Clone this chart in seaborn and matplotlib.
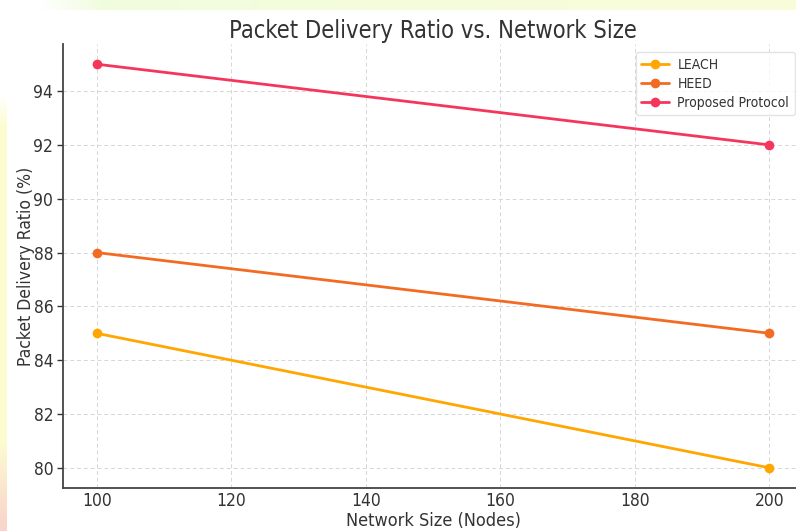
import numpy as np
import pandas as pd
import matplotlib
matplotlib.use("Agg")
import matplotlib.pyplot as plt
import seaborn as sns

# ---- data ----
network_sizes = [100, 200]
leach = [85, 80]
heed = [88, 85]
proposed = [95, 92]
protocols = ["LEACH", "HEED", "Proposed Protocol"]
colors = ["#ffa600", "#f36b22", "#f5365c"]

df = pd.DataFrame({
    "Network Size (Nodes)": network_sizes * 3,
    "Packet Delivery Ratio (%)": leach + heed + proposed,
    "Protocol": [protocols[0]] * 2 + [protocols[1]] * 2 + [protocols[2]] * 2,
})

sns.set_theme(style="white")
plt.rcParams["font.family"] = ["DejaVu Sans"]
plt.rcParams["font.stretch"] = "condensed"
plt.rcParams["text.color"] = "#333333"
plt.rcParams["axes.labelcolor"] = "#333333"
plt.rcParams["xtick.color"] = "#333333"
plt.rcParams["ytick.color"] = "#333333"

W, H = 796, 531
fig = plt.figure(figsize=(W / 100, H / 100), dpi=100)

# faint decorative background edges (screenshot-like)
bg = fig.add_axes([0, 0, 1, 1], zorder=-10)
img = np.ones((H, W, 3))
top = np.linspace(0, 1, W)
tcol_a = np.array([0.94, 0.99, 0.88])
tcol_b = np.array([0.98, 0.99, 0.85])
fade = np.clip((np.arange(W) - 40) / 60, 0, 1)
for x in range(W):
    col = tcol_a * (1 - top[x]) + tcol_b * top[x]
    img[0:10, x] = 1 - (1 - col) * fade[x]
lcol_y = np.array([0.99, 0.99, 0.82])
lcol_p = np.array([0.98, 0.84, 0.80])
for y in range(95, H):
    t = np.clip((y - 440) / 80, 0, 1)
    col = lcol_y * (1 - t) + lcol_p * t
    f = np.clip((y - 95) / 30, 0, 1)
    img[y, 0:7] = 1 - (1 - col) * f
bg.imshow(img, aspect="auto", interpolation="bilinear")
bg.axis("off")

ax = fig.add_axes([63 / W, 43 / H, 740 / W, 444 / H])
sns.lineplot(
    data=df, x="Network Size (Nodes)", y="Packet Delivery Ratio (%)",
    hue="Protocol", palette=colors, marker="o", markersize=7,
    markeredgewidth=0, linewidth=2, ax=ax,
)
ax.set_xlim(95, 205)
ax.set_ylim(79.25, 95.75)
ax.set_xticks([100, 120, 140, 160, 180, 200])
ax.set_yticks([80, 82, 84, 86, 88, 90, 92, 94])
ax.grid(True, linestyle=(0, (4, 3)), color="#d6d6d6", linewidth=0.7)
ax.set_axisbelow(True)
for s in ["top", "right"]:
    ax.spines[s].set_visible(False)
for s in ["left", "bottom"]:
    ax.spines[s].set_color("#444444")
    ax.spines[s].set_linewidth(1.3)
ax.tick_params(axis="x", direction="in", length=4, width=1, labelsize=12.5, pad=3)
ax.tick_params(axis="y", direction="out", length=4, width=1, labelsize=12.5, left=True, pad=3)
ax.set_xlabel("Network Size (Nodes)", fontsize=13, labelpad=1)
ax.set_ylabel("Packet Delivery Ratio (%)", fontsize=12.6, labelpad=-1)
ax.set_title("Packet Delivery Ratio vs. Network Size", fontsize=17, pad=4)
leg = ax.legend(loc="upper right", fontsize=10, frameon=True, borderaxespad=0.6,
                labelspacing=0.35, handlelength=2.0, handletextpad=0.6)
leg.set_title(None)
leg.get_frame().set_edgecolor("#dddddd")

fig.savefig("out.png", dpi=100)
